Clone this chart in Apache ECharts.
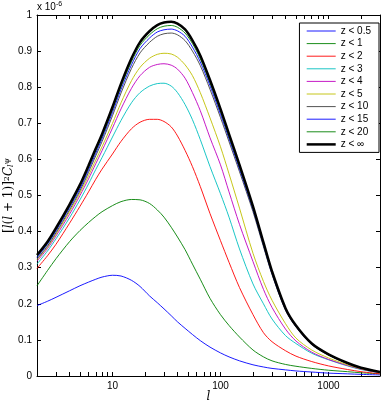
<!DOCTYPE html>
<html>
<head>
<meta charset="utf-8">
<script src="https://cdn.jsdelivr.net/npm/echarts@6/dist/echarts.min.js"></script>
<style>
  html, body { margin: 0; padding: 0; background: #fff; }
  #chart { width: 382px; height: 402px; }
</style>
</head>
<body>
<div id="chart"></div>
<script>
// multipole l (x axis, log)
const ells = [2, 2.5, 3, 4, 5, 6, 7, 8, 10, 12, 15, 18, 22, 26, 30, 35, 40, 47, 55, 65, 80, 100, 120, 150, 200, 250, 300, 400, 500, 700, 1000, 1500, 2000, 3000];

// [l(l+1)]^2 C_l^psi, units of 1e-6
const zLt05  = [0.195, 0.207, 0.218, 0.236, 0.250, 0.260, 0.268, 0.274, 0.279, 0.277, 0.265, 0.248, 0.222, 0.203, 0.186, 0.167, 0.150, 0.132, 0.115, 0.098, 0.080, 0.064, 0.053, 0.042, 0.031, 0.025, 0.021, 0.017, 0.014, 0.011, 0.008, 0.006, 0.0045, 0.003];
const zLt1   = [0.250, 0.292, 0.325, 0.372, 0.403, 0.425, 0.442, 0.455, 0.472, 0.483, 0.489, 0.488, 0.478, 0.460, 0.440, 0.412, 0.385, 0.350, 0.310, 0.268, 0.215, 0.170, 0.140, 0.108, 0.072, 0.053, 0.042, 0.032, 0.027, 0.021, 0.016, 0.012, 0.009, 0.006];
const zLt2   = [0.298, 0.333, 0.365, 0.423, 0.470, 0.510, 0.545, 0.573, 0.615, 0.650, 0.685, 0.703, 0.711, 0.711, 0.705, 0.690, 0.665, 0.625, 0.580, 0.525, 0.450, 0.375, 0.315, 0.245, 0.170, 0.120, 0.095, 0.070, 0.055, 0.040, 0.028, 0.018, 0.012, 0.006];
const zLt3   = [0.310, 0.346, 0.380, 0.438, 0.488, 0.532, 0.572, 0.605, 0.662, 0.708, 0.757, 0.785, 0.803, 0.810, 0.811, 0.803, 0.785, 0.752, 0.710, 0.655, 0.580, 0.505, 0.440, 0.352, 0.255, 0.200, 0.158, 0.112, 0.090, 0.063, 0.045, 0.028, 0.018, 0.009];
const zLt4   = [0.318, 0.353, 0.388, 0.448, 0.500, 0.546, 0.588, 0.624, 0.687, 0.740, 0.797, 0.832, 0.855, 0.863, 0.865, 0.861, 0.850, 0.825, 0.785, 0.735, 0.660, 0.585, 0.510, 0.420, 0.317, 0.240, 0.190, 0.130, 0.097, 0.066, 0.046, 0.029, 0.019, 0.009];
const zLt5   = [0.322, 0.357, 0.393, 0.455, 0.507, 0.555, 0.598, 0.635, 0.700, 0.757, 0.818, 0.855, 0.880, 0.891, 0.894, 0.892, 0.883, 0.862, 0.832, 0.785, 0.715, 0.635, 0.560, 0.465, 0.340, 0.262, 0.210, 0.145, 0.105, 0.072, 0.050, 0.031, 0.020, 0.010];
const zLt10  = [0.324, 0.360, 0.397, 0.460, 0.513, 0.564, 0.610, 0.649, 0.721, 0.784, 0.852, 0.895, 0.924, 0.941, 0.948, 0.950, 0.945, 0.929, 0.900, 0.860, 0.794, 0.716, 0.649, 0.566, 0.455, 0.358, 0.281, 0.182, 0.136, 0.087, 0.058, 0.035, 0.022, 0.011];
const zLt15  = [0.328, 0.365, 0.402, 0.466, 0.519, 0.571, 0.617, 0.657, 0.730, 0.794, 0.862, 0.907, 0.936, 0.953, 0.959, 0.961, 0.956, 0.941, 0.911, 0.870, 0.804, 0.725, 0.657, 0.573, 0.461, 0.363, 0.284, 0.184, 0.137, 0.088, 0.059, 0.035, 0.023, 0.011];
const zLt20  = [0.332, 0.368, 0.406, 0.470, 0.525, 0.577, 0.624, 0.663, 0.738, 0.802, 0.871, 0.916, 0.945, 0.962, 0.969, 0.971, 0.966, 0.950, 0.921, 0.879, 0.812, 0.733, 0.663, 0.579, 0.465, 0.366, 0.287, 0.186, 0.139, 0.089, 0.059, 0.036, 0.023, 0.011];
const zLtInf = [0.335, 0.372, 0.410, 0.475, 0.530, 0.583, 0.630, 0.670, 0.745, 0.810, 0.880, 0.925, 0.955, 0.972, 0.979, 0.981, 0.976, 0.960, 0.930, 0.888, 0.820, 0.740, 0.670, 0.585, 0.470, 0.370, 0.290, 0.188, 0.140, 0.090, 0.060, 0.036, 0.023, 0.011];

const names = ['z < 0.5', 'z < 1', 'z < 2', 'z < 3', 'z < 4', 'z < 5', 'z < 10', 'z < 15', 'z < 20', 'z < \u221e'];
const curves = [zLt05, zLt1, zLt2, zLt3, zLt4, zLt5, zLt10, zLt15, zLt20, zLtInf];
const colors = ['#0000ff', '#008000', '#ff0000', '#00bfbf', '#bf00bf', '#bfbf00', '#404040', '#0000ff', '#008000', '#000000'];

const xLabelVals = [10, 100, 1000];
const xTickVals = [2, 3, 4, 5, 6, 7, 8, 9, 10, 20, 30, 40, 50, 60, 70, 80, 90, 100,
  200, 300, 400, 500, 600, 700, 800, 900, 1000, 2000, 3000];

const chart = echarts.init(document.getElementById('chart'));

const sans = 'Liberation Sans, Arial, sans-serif';
const serif = 'DejaVu Serif, serif';
const labelFont = { color: '#000', fontSize: 10, fontFamily: sans };

const xBase = {
  type: 'log',
  logBase: 10,
  min: 2,
  max: 3000,
  splitLine: { show: false },
  axisLine: { onZero: false, lineStyle: { color: '#000', width: 1 } },
  axisTick: { inside: true, length: 4, customValues: xTickVals, lineStyle: { color: '#000' } },
  minorTick: { show: false }
};
const yBase = {
  type: 'value',
  min: 0,
  max: 1,
  interval: 0.1,
  splitLine: { show: false },
  axisLine: { onZero: false, lineStyle: { color: '#000', width: 1 } },
  axisTick: { inside: true, length: 4, lineStyle: { color: '#000' } }
};

const option = {
  animation: false,
  backgroundColor: '#fff',
  grid: { left: 37, right: 2, top: 15, bottom: 26, containLabel: false, outerBoundsMode: 'none' },
  legend: {
    orient: 'vertical',
    right: 3,
    top: 23,
    backgroundColor: '#fff',
    borderColor: '#000',
    borderWidth: 1,
    borderRadius: 0,
    padding: [3, 8, 3, 6],
    itemWidth: 29,
    itemHeight: 10,
    itemGap: 2.6,
    itemStyle: { opacity: 0 },
    lineStyle: { width: 'inherit' },
    textStyle: { color: '#000', fontSize: 10, lineHeight: 10, fontFamily: sans },
    data: names
  },
  xAxis: [
    Object.assign({}, xBase, {
      position: 'bottom',
      axisLabel: Object.assign({ customValues: xLabelVals, margin: 5, formatter: v => String(v) }, labelFont),
      name: 'l',
      nameLocation: 'middle',
      nameGap: 15,
      nameMoveOverlap: false,
      nameTextStyle: { color: '#000', fontSize: 12, fontStyle: 'italic', fontFamily: serif }
    }),
    Object.assign({}, xBase, {
      position: 'top',
      axisLabel: { show: false }
    })
  ],
  yAxis: [
    Object.assign({}, yBase, {
      position: 'left',
      axisLabel: Object.assign({ margin: 5 }, labelFont),
      name: '{t|[}{i|l}{t|(}{i|l}{t| + 1)]}{s|2}{i|C}{b|l}{s|\u03c8}',
      nameLocation: 'middle',
      nameRotate: 90,
      nameGap: 22,
      nameMoveOverlap: false,
      nameTextStyle: {
        rich: {
          t: { fontSize: 12, fontFamily: serif, color: '#000' },
          i: { fontSize: 12, fontStyle: 'italic', fontFamily: serif, color: '#000' },
          s: { fontSize: 8, fontFamily: serif, color: '#000', verticalAlign: 'top' },
          b: { fontSize: 8, fontStyle: 'italic', fontFamily: serif, color: '#000', verticalAlign: 'bottom' }
        }
      }
    }),
    Object.assign({}, yBase, {
      position: 'right',
      axisLabel: { show: false }
    })
  ],
  graphic: [{
    type: 'text',
    left: 37,
    top: 1,
    style: {
      text: 'x 10{s|-6}',
      fill: '#000',
      fontSize: 10,
      fontFamily: sans,
      rich: { s: { fontSize: 7, verticalAlign: 'top', padding: [0, 0, 5, 0], fill: '#000' } }
    }
  }],
  series: curves.map((vals, i) => ({
    name: names[i],
    type: 'line',
    xAxisIndex: 0,
    yAxisIndex: 0,
    symbol: 'none',
    smooth: 0.3,
    lineStyle: { color: colors[i], width: i === curves.length - 1 ? 2.5 : 0.9 },
    itemStyle: { color: colors[i] },
    z: i === curves.length - 1 ? 3 : 2,
    data: ells.map((l, k) => [l, vals[k]])
  }))
};

chart.setOption(option);
</script>
</body>
</html>
